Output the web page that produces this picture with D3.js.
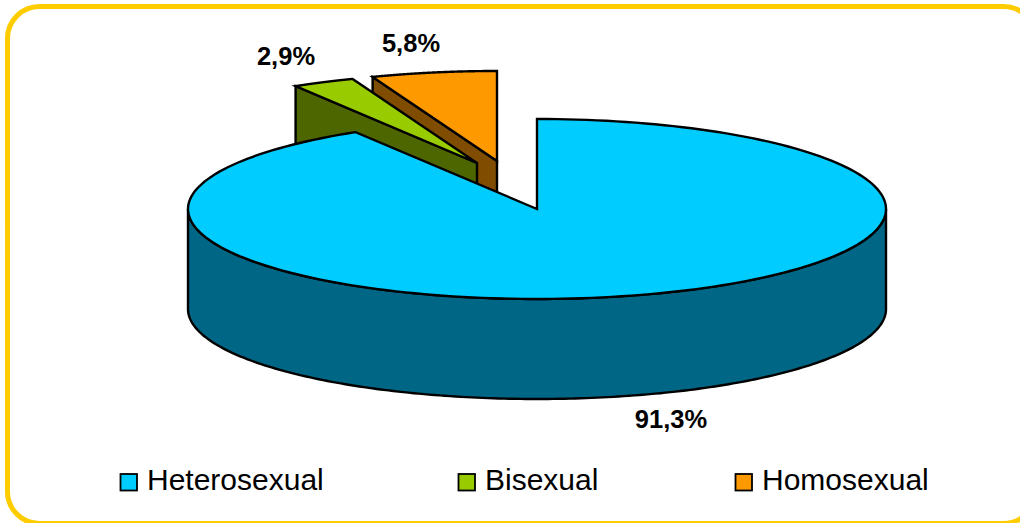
<!DOCTYPE html>
<html><head><meta charset="utf-8">
<script src="https://cdn.jsdelivr.net/npm/d3@7/dist/d3.min.js"></script>
<style>html,body{margin:0;padding:0;background:#fff;overflow:hidden}svg{display:block}text{font-family:"Liberation Sans",Arial,sans-serif;fill:#000}</style>
</head><body><script>
const categories = ["Heterosexual", "Bisexual", "Homosexual"];
const values = [91.3, 2.9, 5.8];
const valueLabels = ["91,3%", "2,9%", "5,8%"];
const topColors = ["#00ccff", "#99cc00", "#ff9900"];
const wallColors = ["#006685", "#4d6600", "#804d00"];

const W = 1020, H = 523;
const cx = 537, cy = 209, rx = 349, ry = 90, depth = 100;
const explode = [[0, 0], [-60, -46], [-40, -48]];
const labelPos = [[671, 428], [286, 65], [411, 52]];
const legendX = [120, 458, 735];

const svg = d3.select("body").append("svg").attr("width", W).attr("height", H);
svg.append("rect").attr("x", 7.5).attr("y", 6.5).attr("width", 1028).attr("height", 517)
  .attr("rx", 32).attr("fill", "#fff").attr("stroke", "#ffcc00").attr("stroke-width", 5);

const arcs = d3.pie().sort(null)(values);
const X = d3.scaleLinear().domain([-1, 1]).range([-rx, rx]);
const Y = d3.scaleLinear().domain([-1, 1]).range([ry, -ry]);
const pt = (a, ox, oy, dz = 0) => [cx + ox + X(Math.sin(a)), cy + oy + Y(Math.cos(a)) + dz];
const line = d3.line();
const samples = (a0, a1) => d3.range(0, 201).map(i => a0 + (a1 - a0) * i / 200);
function draw(d, fill) {
  svg.append("path").attr("d", d).attr("fill", fill)
    .attr("stroke", "#000").attr("stroke-width", 2.4).attr("stroke-linejoin", "miter");
}
function drawSlice(i) {
  const {startAngle: a0, endAngle: a1} = arcs[i];
  const [ox, oy] = explode[i];
  const c = [cx + ox, cy + oy];
  if (i === 0) {
    // visible rim: lower half of the ellipse
    const rim = samples(Math.PI / 2, 3 * Math.PI / 2);
    const outer = rim.map(a => pt(a, ox, oy));
    const lower = rim.slice().reverse().map(a => pt(a, ox, oy, depth));
    draw(line(outer.concat(lower)) + "Z", wallColors[i]);
  } else {
    // cut face from the outer start point to the exploded apex, extruded downward
    const s = pt(a0, ox, oy);
    draw(line([s, c, [c[0], c[1] + depth], [s[0], s[1] + depth]]) + "Z", wallColors[i]);
  }
  const top = samples(a0, a1).map(a => pt(a, ox, oy));
  draw(line([c].concat(top)) + "Z", topColors[i]);
}
// painter's order: back slices first
drawSlice(2);
drawSlice(1);
drawSlice(0);

svg.selectAll("text.val").data(valueLabels).join("text").attr("class", "val")
  .attr("x", (d, i) => labelPos[i][0]).attr("y", (d, i) => labelPos[i][1])
  .attr("text-anchor", "middle").attr("font-size", 25.5).attr("font-weight", 700).text(d => d);

const lg = svg.selectAll("g.lg").data(categories).join("g").attr("class", "lg")
  .attr("transform", (d, i) => `translate(${legendX[i]},0)`);
lg.append("rect").attr("x", 0.5).attr("y", 474).attr("width", 16.5).attr("height", 16.5)
  .attr("fill", (d, i) => topColors[i]).attr("stroke", "#000").attr("stroke-width", 1.8);
lg.append("text").attr("x", 27).attr("y", 490).attr("font-size", 30).text(d => d);
</script></body></html>
